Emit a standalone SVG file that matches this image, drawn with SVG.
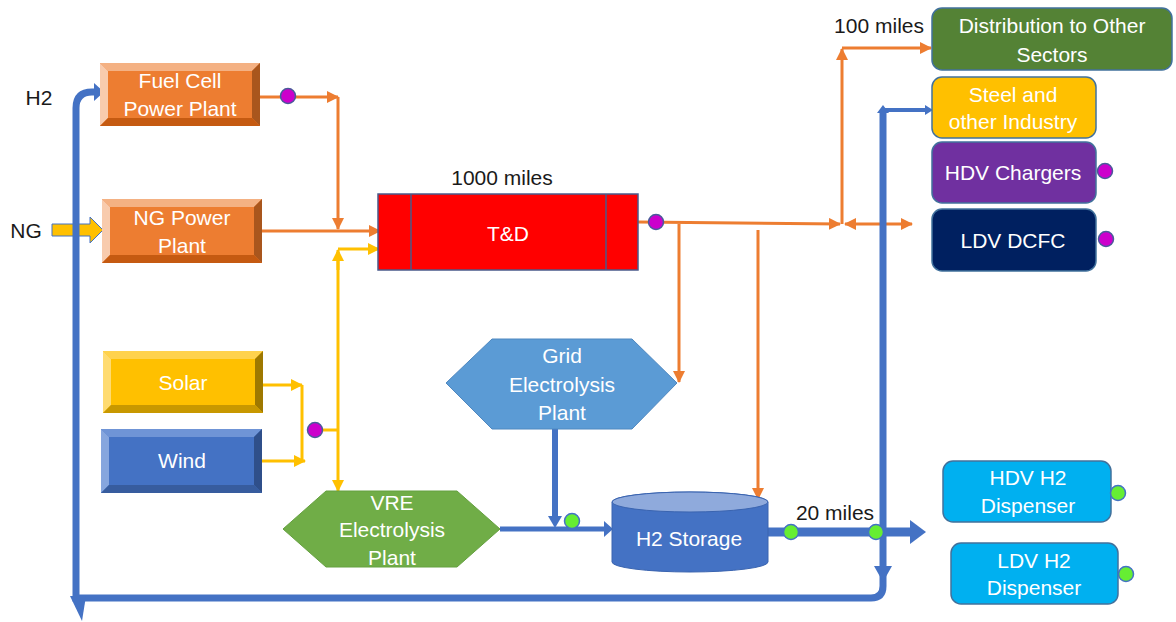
<svg xmlns="http://www.w3.org/2000/svg" width="1176" height="622" viewBox="0 0 1176 622">
<style>
text{font-family:"Liberation Sans",Arial,sans-serif;font-size:21px;text-anchor:middle}
.w{fill:#ffffff}
.k{fill:#1a1a1a}
.or{fill:none;stroke:#ed7d31;stroke-width:3}
.ye{fill:none;stroke:#ffc000;stroke-width:3}
.bl{fill:none;stroke:#4472c4}
.blf{fill:#4472c4}
.mg{fill:#cc00cc;stroke:#4a5a9a;stroke-width:1.5}
.gn{fill:#66ee33;stroke:#4472c4;stroke-width:1.5}
.rr{stroke:#41719c;stroke-width:1.5}
</style>
<defs>
<marker id="ao" markerUnits="userSpaceOnUse" markerWidth="12" markerHeight="12" refX="11" refY="6" orient="auto"><path d="M0,0 L12,6 L0,12 Z" fill="#ed7d31"/></marker>
<marker id="aos" markerUnits="userSpaceOnUse" markerWidth="12" markerHeight="12" refX="1" refY="6" orient="auto"><path d="M12,0 L0,6 L12,12 Z" fill="#ed7d31"/></marker>
<marker id="ay" markerUnits="userSpaceOnUse" markerWidth="12" markerHeight="12" refX="11" refY="6" orient="auto"><path d="M0,0 L12,6 L0,12 Z" fill="#ffc000"/></marker>
</defs>

<g id="connectors">
<!-- orange electricity -->
<path class="or" d="M260,97 H338" marker-end="url(#ao)"/>
<path class="or" d="M338,97 V229" marker-end="url(#ao)"/>
<path class="or" d="M262,231 H380" marker-end="url(#ao)"/>
<path class="or" d="M638,222 L840,224" marker-end="url(#ao)"/>
<path class="or" d="M679,224 V382" marker-end="url(#ao)"/>
<path class="or" d="M758,230 V499" marker-end="url(#ao)"/>
<path class="or" d="M842,224 V49" marker-end="url(#ao)"/>
<path class="or" d="M842,48 H931" marker-end="url(#ao)"/>
<path class="or" d="M845,224 H912" marker-start="url(#aos)" marker-end="url(#ao)"/>
<!-- yellow renewables -->
<path class="ye" d="M263,385 H302" marker-end="url(#ay)"/>
<path class="ye" d="M262,461 H305" marker-end="url(#ay)"/>
<path class="ye" d="M302,385 V461"/>
<path class="ye" d="M315,430 H338"/>
<path class="ye" d="M338,270 V250" marker-end="url(#ay)"/>
<path class="ye" d="M338,249 H379" marker-end="url(#ay)"/>
<path class="ye" d="M338,252 V491" marker-end="url(#ay)"/>
<!-- NG fat arrow -->
<polygon points="52,224 90,224 90,217 103,230 90,243 90,236 52,236" fill="#ffc000" stroke="#4472c4" stroke-width="1"/>
<!-- blue hydrogen -->
<path class="bl" stroke-width="7" d="M883,112 V586 Q883,598 871,598 H76 V108 Q76,92 92,92 H96"/>
<polygon class="blf" points="94,83 104,92 94,101"/>
<polygon class="blf" points="874,566 892,566 883,582"/>
<polygon class="blf" points="70,596 86,596 82,621"/>
<path class="bl" stroke-width="4" d="M883,110 H926"/>
<polygon class="blf" points="925,105 933,110 925,115"/>
<polygon class="blf" points="877,113 889,113 883,105"/>
<path class="bl" stroke-width="6" d="M555,429 V518"/>
<polygon class="blf" points="548,516 562,516 555,528"/>
<path class="bl" stroke-width="5" d="M500,529 H605"/>
<polygon class="blf" points="604,521 613,529 604,537"/>
<path class="bl" stroke-width="9" d="M768,532 H912"/>
<polygon class="blf" points="910,520 926,532 910,544"/>
<!-- junction dots -->
<circle class="mg" cx="288" cy="96" r="7.5"/>
<circle class="mg" cx="656" cy="222" r="7.5"/>
<circle class="mg" cx="315" cy="430" r="7.5"/>
<circle class="gn" cx="572" cy="521" r="7.5"/>
<circle class="gn" cx="791" cy="532" r="7.5"/>
<circle class="gn" cx="876" cy="532" r="7.5"/>
</g>

<g id="labels">
<text class="k" x="39" y="105">H2</text>
<text class="k" x="26" y="238">NG</text>
<text class="k" x="502" y="185">1000 miles</text>
<text class="k" x="924" y="33" style="text-anchor:end">100 miles</text>
<text class="k" x="835" y="520">20 miles</text>
</g>

<g id="fuel-cell">
<rect x="100" y="63" width="160" height="63" fill="#ed7d31"/>
<polygon points="100,63 260,63 252,71 108,71" fill="#f4b183"/>
<polygon points="100,63 108,71 108,118 100,126" fill="#f8cbad"/>
<polygon points="260,63 260,126 252,118 252,71" fill="#a9561d"/>
<polygon points="100,126 108,118 252,118 260,126" fill="#c55a11"/>
<text class="w" x="180" y="88">Fuel Cell</text>
<text class="w" x="180" y="116">Power Plant</text>
</g>

<g id="ng-plant">
<rect x="102" y="199" width="160" height="64" fill="#ed7d31"/>
<polygon points="102,199 262,199 254,207 110,207" fill="#f4b183"/>
<polygon points="102,199 110,207 110,255 102,263" fill="#f8cbad"/>
<polygon points="262,199 262,263 254,255 254,207" fill="#a9561d"/>
<polygon points="102,263 110,255 254,255 262,263" fill="#c55a11"/>
<text class="w" x="182" y="225">NG Power</text>
<text class="w" x="182" y="253">Plant</text>
</g>

<g id="solar">
<rect x="103" y="351" width="160" height="62" fill="#ffc000"/>
<polygon points="103,351 263,351 255,359 111,359" fill="#ffd24d"/>
<polygon points="103,351 111,359 111,405 103,413" fill="#ffdb70"/>
<polygon points="263,351 263,413 255,405 255,359" fill="#9e7800"/>
<polygon points="103,413 111,405 255,405 263,413" fill="#c89800"/>
<text class="w" x="183" y="390">Solar</text>
</g>

<g id="wind">
<rect x="101" y="429" width="161" height="64" fill="#4472c4"/>
<polygon points="101,429 262,429 254,437 109,437" fill="#6f94d6"/>
<polygon points="101,429 109,437 109,485 101,493" fill="#86a6de"/>
<polygon points="262,429 262,493 254,485 254,437" fill="#2f4f8a"/>
<polygon points="101,493 109,485 254,485 262,493" fill="#375c9e"/>
<text class="w" x="182" y="468">Wind</text>
</g>

<g id="td">
<rect x="378" y="194" width="260" height="76" fill="#ff0000" stroke="#4a5a8a" stroke-width="1.5"/>
<line x1="411" y1="194" x2="411" y2="270" stroke="#4a5a8a" stroke-width="1.5"/>
<line x1="606" y1="194" x2="606" y2="270" stroke="#4a5a8a" stroke-width="1.5"/>
<text class="w" x="508" y="241">T&amp;D</text>
</g>

<g id="grid-electrolysis">
<polygon points="446,383 492,339 632,339 677,383 632,429 492,429" fill="#5b9bd5" stroke="#4f88c0" stroke-width="1"/>
<text class="w" x="562" y="363">Grid</text>
<text class="w" x="562" y="392">Electrolysis</text>
<text class="w" x="562" y="420">Plant</text>
</g>

<g id="vre-electrolysis">
<polygon points="283,529 326,491 457,491 500,529 457,567 326,567" fill="#70ad47" stroke="#65a040" stroke-width="1"/>
<text class="w" x="392" y="510">VRE</text>
<text class="w" x="392" y="537">Electrolysis</text>
<text class="w" x="392" y="565">Plant</text>
</g>

<g id="h2-storage">
<path d="M612,502 A78,10 0 0 1 768,502 V562 A78,10 0 0 1 612,562 Z" fill="#4472c4" stroke="#3a64b0" stroke-width="1"/>
<ellipse cx="690" cy="502" rx="78" ry="10" fill="#8faadc" stroke="#3a64b0" stroke-width="1"/>
<text class="w" x="689" y="546">H2 Storage</text>
</g>

<g id="distribution">
<rect class="rr" x="932" y="8" width="240" height="62" rx="10" fill="#548235"/>
<text class="w" x="1052" y="33">Distribution to Other</text>
<text class="w" x="1052" y="62">Sectors</text>
</g>

<g id="steel">
<rect class="rr" x="932" y="77" width="164" height="61" rx="10" fill="#ffc000"/>
<text class="w" x="1013" y="102">Steel and</text>
<text class="w" x="1013" y="129">other Industry</text>
</g>

<g id="hdv-chargers">
<rect class="rr" x="932" y="142" width="164" height="61" rx="10" fill="#7030a0"/>
<text class="w" x="1013" y="180">HDV Chargers</text>
<circle class="mg" cx="1105" cy="171" r="7.5"/>
</g>

<g id="ldv-dcfc">
<rect class="rr" x="932" y="209" width="164" height="62" rx="10" fill="#002060"/>
<text class="w" x="1013" y="248">LDV DCFC</text>
<circle class="mg" cx="1106" cy="239" r="7.5"/>
</g>

<g id="hdv-h2">
<rect class="rr" x="943" y="461" width="168" height="61" rx="10" fill="#00b0f0"/>
<text class="w" x="1028" y="485">HDV H2</text>
<text class="w" x="1028" y="513">Dispenser</text>
<circle class="gn" cx="1118" cy="493" r="7.5"/>
</g>

<g id="ldv-h2">
<rect class="rr" x="951" y="543" width="167" height="61" rx="10" fill="#00b0f0"/>
<text class="w" x="1034" y="568">LDV H2</text>
<text class="w" x="1034" y="595">Dispenser</text>
<circle class="gn" cx="1126" cy="574" r="7.5"/>
</g>
</svg>
